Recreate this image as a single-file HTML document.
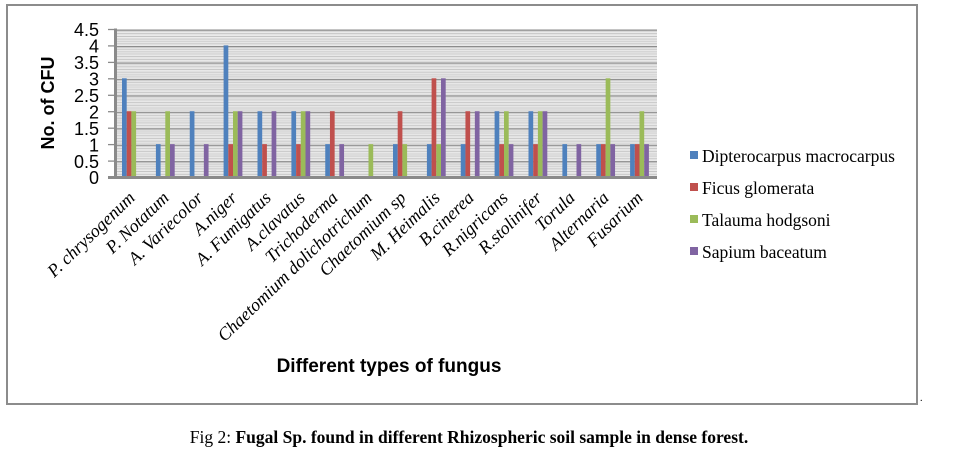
<!DOCTYPE html>
<html><head><meta charset="utf-8"><style>
body{margin:0;background:#fff;width:973px;height:456px;overflow:hidden}
svg{display:block}
</style></head><body>
<svg width="973" height="456" xmlns="http://www.w3.org/2000/svg">
<defs>
<pattern id="g" x="0" y="29.5" width="10" height="16.45" patternUnits="userSpaceOnUse">
<rect width="10" height="16.45" fill="#fff"/>
<rect y="0" width="10" height="1.3" fill="#8a8a8a"/>
<rect y="1.645" width="10" height="1" fill="#d0d0d0"/>
<rect y="3.29" width="10" height="1" fill="#bdbdbd"/>
<rect y="4.935" width="10" height="1" fill="#d0d0d0"/>
<rect y="6.58" width="10" height="1" fill="#bdbdbd"/>
<rect y="8.225" width="10" height="1" fill="#d0d0d0"/>
<rect y="9.87" width="10" height="1" fill="#bdbdbd"/>
<rect y="11.515" width="10" height="1" fill="#d0d0d0"/>
<rect y="13.16" width="10" height="1" fill="#bdbdbd"/>
<rect y="14.805" width="10" height="1" fill="#d0d0d0"/>
</pattern>
</defs>
<rect x="7" y="5" width="910" height="399" fill="#fff" stroke="#8c8c8c" stroke-width="2"/>
<text x="920" y="401" font-family="Liberation Serif" font-size="10">.</text>
<rect x="116" y="29.5" width="541" height="147.5" fill="url(#g)"/>
<g stroke="#8a8a8a" stroke-width="1.3">
<line x1="108" y1="29.5" x2="116" y2="29.5"/><line x1="108" y1="45.9" x2="116" y2="45.9"/><line x1="108" y1="62.4" x2="116" y2="62.4"/><line x1="108" y1="78.8" x2="116" y2="78.8"/><line x1="108" y1="95.3" x2="116" y2="95.3"/><line x1="108" y1="111.7" x2="116" y2="111.7"/><line x1="108" y1="128.2" x2="116" y2="128.2"/><line x1="108" y1="144.6" x2="116" y2="144.6"/><line x1="108" y1="161.1" x2="116" y2="161.1"/>
</g>
<g>
<g transform="translate(122,0)"><rect x="0" y="78.3" width="4.7" height="98.7" fill="#4f81bd"/><rect x="4.7" y="111.2" width="4.7" height="65.8" fill="#c0504d"/><rect x="9.4" y="111.2" width="4.7" height="65.8" fill="#9bbb59"/></g>
<g transform="translate(155.9,0)"><rect x="0" y="144.1" width="4.7" height="32.9" fill="#4f81bd"/><rect x="9.4" y="111.2" width="4.7" height="65.8" fill="#9bbb59"/><rect x="14.1" y="144.1" width="4.7" height="32.9" fill="#8064a2"/></g>
<g transform="translate(189.75,0)"><rect x="0" y="111.2" width="4.7" height="65.8" fill="#4f81bd"/><rect x="14.1" y="144.1" width="4.7" height="32.9" fill="#8064a2"/></g>
<g transform="translate(223.6,0)"><rect x="0" y="45.4" width="4.7" height="131.6" fill="#4f81bd"/><rect x="4.7" y="144.1" width="4.7" height="32.9" fill="#c0504d"/><rect x="9.4" y="111.2" width="4.7" height="65.8" fill="#9bbb59"/><rect x="14.1" y="111.2" width="4.7" height="65.8" fill="#8064a2"/></g>
<g transform="translate(257.5,0)"><rect x="0" y="111.2" width="4.7" height="65.8" fill="#4f81bd"/><rect x="4.7" y="144.1" width="4.7" height="32.9" fill="#c0504d"/><rect x="14.1" y="111.2" width="4.7" height="65.8" fill="#8064a2"/></g>
<g transform="translate(291.4,0)"><rect x="0" y="111.2" width="4.7" height="65.8" fill="#4f81bd"/><rect x="4.7" y="144.1" width="4.7" height="32.9" fill="#c0504d"/><rect x="9.4" y="111.2" width="4.7" height="65.8" fill="#9bbb59"/><rect x="14.1" y="111.2" width="4.7" height="65.8" fill="#8064a2"/></g>
<g transform="translate(325.25,0)"><rect x="0" y="144.1" width="4.7" height="32.9" fill="#4f81bd"/><rect x="4.7" y="111.2" width="4.7" height="65.8" fill="#c0504d"/><rect x="14.1" y="144.1" width="4.7" height="32.9" fill="#8064a2"/></g>
<g transform="translate(359.1,0)"><rect x="9.4" y="144.1" width="4.7" height="32.9" fill="#9bbb59"/></g>
<g transform="translate(393,0)"><rect x="0" y="144.1" width="4.7" height="32.9" fill="#4f81bd"/><rect x="4.7" y="111.2" width="4.7" height="65.8" fill="#c0504d"/><rect x="9.4" y="144.1" width="4.7" height="32.9" fill="#9bbb59"/></g>
<g transform="translate(426.9,0)"><rect x="0" y="144.1" width="4.7" height="32.9" fill="#4f81bd"/><rect x="4.7" y="78.3" width="4.7" height="98.7" fill="#c0504d"/><rect x="9.4" y="144.1" width="4.7" height="32.9" fill="#9bbb59"/><rect x="14.1" y="78.3" width="4.7" height="98.7" fill="#8064a2"/></g>
<g transform="translate(460.75,0)"><rect x="0" y="144.1" width="4.7" height="32.9" fill="#4f81bd"/><rect x="4.7" y="111.2" width="4.7" height="65.8" fill="#c0504d"/><rect x="14.1" y="111.2" width="4.7" height="65.8" fill="#8064a2"/></g>
<g transform="translate(494.6,0)"><rect x="0" y="111.2" width="4.7" height="65.8" fill="#4f81bd"/><rect x="4.7" y="144.1" width="4.7" height="32.9" fill="#c0504d"/><rect x="9.4" y="111.2" width="4.7" height="65.8" fill="#9bbb59"/><rect x="14.1" y="144.1" width="4.7" height="32.9" fill="#8064a2"/></g>
<g transform="translate(528.5,0)"><rect x="0" y="111.2" width="4.7" height="65.8" fill="#4f81bd"/><rect x="4.7" y="144.1" width="4.7" height="32.9" fill="#c0504d"/><rect x="9.4" y="111.2" width="4.7" height="65.8" fill="#9bbb59"/><rect x="14.1" y="111.2" width="4.7" height="65.8" fill="#8064a2"/></g>
<g transform="translate(562.4,0)"><rect x="0" y="144.1" width="4.7" height="32.9" fill="#4f81bd"/><rect x="14.1" y="144.1" width="4.7" height="32.9" fill="#8064a2"/></g>
<g transform="translate(596.25,0)"><rect x="0" y="144.1" width="4.7" height="32.9" fill="#4f81bd"/><rect x="4.7" y="144.1" width="4.7" height="32.9" fill="#c0504d"/><rect x="9.4" y="78.3" width="4.7" height="98.7" fill="#9bbb59"/><rect x="14.1" y="144.1" width="4.7" height="32.9" fill="#8064a2"/></g>
<g transform="translate(630.1,0)"><rect x="0" y="144.1" width="4.7" height="32.9" fill="#4f81bd"/><rect x="4.7" y="144.1" width="4.7" height="32.9" fill="#c0504d"/><rect x="9.4" y="111.2" width="4.7" height="65.8" fill="#9bbb59"/><rect x="14.1" y="144.1" width="4.7" height="32.9" fill="#8064a2"/></g>
</g>
<rect x="114" y="28.5" width="3" height="150" fill="#8a8a8a"/>
<rect x="108" y="176" width="549" height="3" fill="#8a8a8a"/>
<g font-family="Liberation Sans" font-size="18" text-anchor="end" fill="#000">
<text x="99" y="36">4.5</text><text x="99" y="52.5">4</text><text x="99" y="69">3.5</text><text x="99" y="85.5">3</text><text x="99" y="102">2.5</text><text x="99" y="118.5">2</text><text x="99" y="135">1.5</text><text x="99" y="151.5">1</text><text x="99" y="168">0.5</text><text x="99" y="184">0</text>
</g>
<text transform="translate(54,103) rotate(-90)" font-family="Liberation Sans" font-weight="bold" font-size="18" text-anchor="middle">No. of CFU</text>
<g font-family="Liberation Serif" font-style="italic" font-size="18" text-anchor="end">
<text transform="translate(136,199) rotate(-44)">P. chrysogenum</text>
<text transform="translate(170,199) rotate(-44)">P. Notatum</text>
<text transform="translate(204,199) rotate(-44)">A. Variecolor</text>
<text transform="translate(238,199) rotate(-44)">A.niger</text>
<text transform="translate(272,199) rotate(-44)">A. Fumigatus</text>
<text transform="translate(306,199) rotate(-44)">A.clavatus</text>
<text transform="translate(339,199) rotate(-44)">Trichoderma</text>
<text transform="translate(373,199) rotate(-44)">Chaetomium dolichotrichum</text>
<text transform="translate(407,199) rotate(-44)">Chaetomium sp</text>
<text transform="translate(441,199) rotate(-44)">M. Heimalis</text>
<text transform="translate(475,199) rotate(-44)">B.cinerea</text>
<text transform="translate(509,199) rotate(-44)">R.nigricans</text>
<text transform="translate(543,199) rotate(-44)">R.stolinifer</text>
<text transform="translate(576,199) rotate(-44)">Torula</text>
<text transform="translate(610,199) rotate(-44)">Alternaria</text>
<text transform="translate(644,199) rotate(-44)">Fusarium</text>
</g>
<text x="389" y="372" font-family="Liberation Sans" font-weight="bold" font-size="19" text-anchor="middle">Different types of fungus</text>
<g font-family="Liberation Serif" font-size="17.5">
<rect x="690" y="151" width="8" height="8" fill="#4f81bd"/><text x="702" y="162">Dipterocarpus macrocarpus</text>
<rect x="690" y="183" width="8" height="8" fill="#c0504d"/><text x="702" y="194">Ficus glomerata</text>
<rect x="690" y="215" width="8" height="8" fill="#9bbb59"/><text x="702" y="226">Talauma hodgsoni</text>
<rect x="690" y="247" width="8" height="8" fill="#8064a2"/><text x="702" y="258">Sapium baceatum</text>
</g>
<text x="469" y="443" font-family="Liberation Serif" font-size="17.5" text-anchor="middle">Fig 2: <tspan font-weight="bold">Fugal Sp. found in different Rhizospheric soil sample in dense forest.</tspan></text>
</svg>
</body></html>
